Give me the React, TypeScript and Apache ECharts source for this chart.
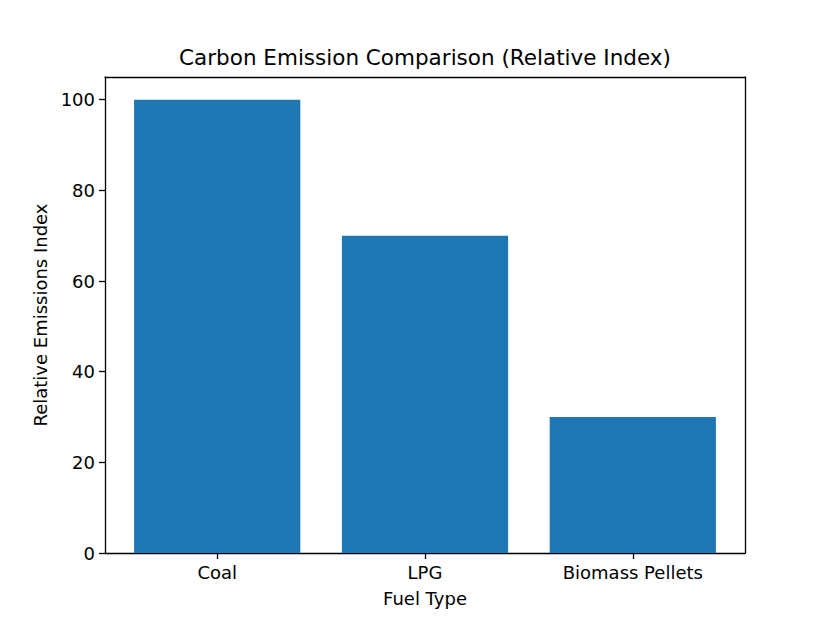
import React, { useEffect, useRef } from "react";
import * as echarts from "echarts";

const categories = ["Coal", "LPG", "Biomass Pellets"];
const values = [100, 70, 30];
const yTicks = [0, 20, 40, 60, 80, 100];

const FONT = "DejaVu Sans";

export default function App() {
  const ref = useRef<HTMLDivElement>(null);
  useEffect(() => {
    if (!ref.current) return;
    const chart = echarts.init(ref.current, undefined, { renderer: "svg" });
    const positions = categories.map((_, i) => i);
    const gridW = 829 - 105 - 84;
    const xMin = -0.54;
    const xMax = categories.length - 1 + 0.54;
    const barW = (gridW / (xMax - xMin)) * 0.8;
    const axisLine = { show: true, onZero: false, lineStyle: { color: "#000", width: 1.3 } };
    chart.setOption({
      animation: false,
      backgroundColor: "#fff",
      title: {
        text: "Carbon Emission Comparison (Relative Index)",
        left: 425,
        textAlign: "center",
        top: 46,
        padding: 0,
        textStyle: { fontFamily: FONT, fontSize: 21.5, fontWeight: "normal", color: "#000" },
      },
      grid: { left: 105, right: 84, top: 77, bottom: 70, containLabel: false },
      xAxis: [
        {
          type: "value",
          min: xMin,
          max: xMax,
          position: "bottom",
          axisLine,
          splitLine: { show: false },
          axisTick: { show: true, length: 6, lineStyle: { color: "#000", width: 1.3 }, customValues: positions },
          axisLabel: {
            show: true,
            customValues: positions,
            margin: 10,
            fontFamily: FONT,
            fontSize: 18,
            color: "#000",
            formatter: (v: number) => categories[Math.round(v)] ?? "",
          },
          name: "Fuel Type",
          nameLocation: "middle",
          nameGap: 36,
          nameTextStyle: { fontFamily: FONT, fontSize: 18, color: "#000", verticalAlign: "top" },
        },
        {
          type: "value",
          min: xMin,
          max: xMax,
          position: "top",
          axisLine,
          axisTick: { show: false },
          axisLabel: { show: false },
          splitLine: { show: false },
        },
      ],
      yAxis: [
        {
          type: "value",
          min: 0,
          max: 105,
          position: "left",
          axisLine,
          splitLine: { show: false },
          axisTick: { show: true, length: 6, lineStyle: { color: "#000", width: 1.3 }, customValues: yTicks },
          axisLabel: {
            show: true,
            customValues: yTicks,
            margin: 10,
            fontFamily: FONT,
            fontSize: 18,
            color: "#000",
          },
          name: "Relative Emissions Index",
          nameLocation: "middle",
          nameGap: 56,
          nameTextStyle: { fontFamily: FONT, fontSize: 18, color: "#000" },
        },
        {
          type: "value",
          min: 0,
          max: 105,
          position: "right",
          axisLine,
          axisTick: { show: false },
          axisLabel: { show: false },
          splitLine: { show: false },
        },
      ],
      series: [
        {
          type: "bar",
          xAxisIndex: 0,
          yAxisIndex: 0,
          barWidth: barW,
          itemStyle: { color: "#1f77b4" },
          data: values.map((v, i) => [positions[i], v]),
          z: 1,
        },
      ],
    });
    return () => chart.dispose();
  }, []);
  return <div ref={ref} style={{ width: 829, height: 623, position: "absolute", left: 0, top: 0 }} />;
}
